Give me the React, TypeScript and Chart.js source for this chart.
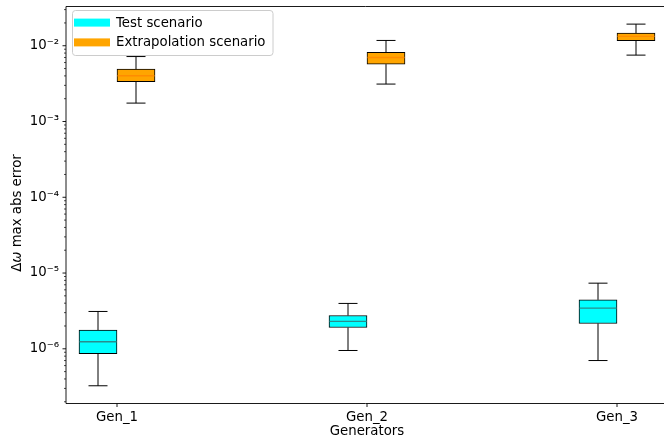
import React, { useEffect, useRef } from "react";
import { Chart, registerables } from "chart.js";

Chart.register(...registerables);

const CATEGORIES = ["Gen_1", "Gen_2", "Gen_3"];
const SERIES_NAMES = ["Test scenario", "Extrapolation scenario"];

const TEST_MIN = [3.25e-7, 9.5e-7, 7.0e-7];
const TEST_Q1 = [8.6e-7, 1.91e-6, 2.16e-6];
const TEST_MED = [1.24e-6, 2.3e-6, 3.44e-6];
const TEST_Q3 = [1.77e-6, 2.75e-6, 4.43e-6];
const TEST_MAX = [3.11e-6, 3.97e-6, 7.35e-6];

const EXT_MIN = [1.75e-3, 3.12e-3, 7.52e-3];
const EXT_Q1 = [3.35e-3, 5.72e-3, 1.165e-2];
const EXT_MED = [4.02e-3, 7.0e-3, 1.33e-2];
const EXT_Q3 = [4.92e-3, 8.16e-3, 1.466e-2];
const EXT_MAX = [7.2e-3, 1.175e-2, 1.93e-2];

const Y_DECADES = [1e-6, 1e-5, 1e-4, 1e-3, 1e-2];
const Y_LABELS = ["10⁻⁶", "10⁻⁵", "10⁻⁴", "10⁻³", "10⁻²"];

const COLORS = ["#00ffff", "#ffa500"];
const MEDIAN_COLORS = ["#2a8c8c", "#ff8c00"];

const Y_MIN = Math.pow(10, -6.722);
const Y_MAX = Math.pow(10, -1.482);
const X_MIN = 0.796;
const X_MAX = 3.188;

const FONT = "DejaVu Sans";
const FS = 13.3;

const STATS = [
  { min: TEST_MIN, q1: TEST_Q1, med: TEST_MED, q3: TEST_Q3, max: TEST_MAX },
  { min: EXT_MIN, q1: EXT_Q1, med: EXT_MED, q3: EXT_Q3, max: EXT_MAX },
];

const overlay = {
  id: "overlay",
  afterDatasetsDraw(chart: any) {
    const ctx = chart.ctx;
    const ys = chart.scales.y;
    ctx.save();
    STATS.forEach((s, di) => {
      const meta = chart.getDatasetMeta(di);
      meta.data.forEach((el: any, j: number) => {
        const x = el.x;
        const half = el.width / 2;
        const pMin = ys.getPixelForValue(s.min[j]);
        const pQ1 = ys.getPixelForValue(s.q1[j]);
        const pMed = ys.getPixelForValue(s.med[j]);
        const pQ3 = ys.getPixelForValue(s.q3[j]);
        const pMax = ys.getPixelForValue(s.max[j]);
        ctx.strokeStyle = "#000";
        ctx.lineWidth = 1;
        ctx.beginPath();
        ctx.moveTo(x, pQ1);
        ctx.lineTo(x, pMin);
        ctx.moveTo(x, pQ3);
        ctx.lineTo(x, pMax);
        ctx.moveTo(x - half / 2, pMin);
        ctx.lineTo(x + half / 2, pMin);
        ctx.moveTo(x - half / 2, pMax);
        ctx.lineTo(x + half / 2, pMax);
        ctx.stroke();
        ctx.strokeStyle = MEDIAN_COLORS[di];
        ctx.lineWidth = 1.4;
        ctx.beginPath();
        ctx.moveTo(x - half + 0.5, pMed);
        ctx.lineTo(x + half - 0.5, pMed);
        ctx.stroke();
      });
    });
    ctx.restore();
  },
  afterDraw(chart: any) {
    const ctx = chart.ctx;
    const ys = chart.scales.y;
    const xs = chart.scales.x;
    const a = chart.chartArea;
    ctx.save();
    ctx.strokeStyle = "#000";
    ctx.lineWidth = 0.9;
    ctx.beginPath();
    ctx.moveTo(a.left, a.top);
    ctx.lineTo(a.left, a.bottom);
    ctx.lineTo(a.right + 2, a.bottom);
    ctx.moveTo(a.left, a.top);
    ctx.lineTo(a.right + 2, a.top);
    ctx.stroke();
    ys.ticks.forEach((t: any) => {
      const p = ys.getPixelForValue(t.value);
      const major = Y_DECADES.some((d) => Math.abs(d - t.value) / d < 1e-6);
      ctx.lineWidth = major ? 0.9 : 0.7;
      ctx.beginPath();
      ctx.moveTo(a.left, p);
      ctx.lineTo(a.left - (major ? 3.5 : 2), p);
      ctx.stroke();
    });
    xs.ticks.forEach((t: any) => {
      const p = xs.getPixelForValue(t.value);
      ctx.lineWidth = 0.9;
      ctx.beginPath();
      ctx.moveTo(p, a.bottom);
      ctx.lineTo(p, a.bottom + 3.5);
      ctx.stroke();
    });
    ctx.fillStyle = "#000";
    ctx.font = `${FS}px "${FONT}"`;
    ctx.textAlign = "center";
    ctx.textBaseline = "middle";
    const midX = xs.getPixelForValue((1 + CATEGORIES.length) / 2);
    ctx.fillText("Generators", midX, 432);
    const partA = "Δ";
    const partB = "ω";
    const partC = " max abs error";
    ctx.font = `${FS}px "${FONT}"`;
    const wA = ctx.measureText(partA).width;
    const wC = ctx.measureText(partC).width;
    ctx.font = `italic ${FS}px "${FONT}"`;
    const wB = ctx.measureText(partB).width;
    const total = wA + wB + wC;
    ctx.translate(18, 213);
    ctx.rotate(-Math.PI / 2);
    ctx.textAlign = "left";
    let cx = -total / 2;
    ctx.font = `${FS}px "${FONT}"`;
    ctx.fillText(partA, cx, 0);
    cx += wA;
    ctx.font = `italic ${FS}px "${FONT}"`;
    ctx.fillText(partB, cx, 0);
    cx += wB;
    ctx.font = `${FS}px "${FONT}"`;
    ctx.fillText(partC, cx, 0);
    ctx.setTransform(1, 0, 0, 1, 0, 0);
    const lx = 72.5, ly = 10.5, lw = 200.5, lh = 45, r = 3;
    ctx.beginPath();
    ctx.moveTo(lx + r, ly);
    ctx.lineTo(lx + lw - r, ly);
    ctx.quadraticCurveTo(lx + lw, ly, lx + lw, ly + r);
    ctx.lineTo(lx + lw, ly + lh - r);
    ctx.quadraticCurveTo(lx + lw, ly + lh, lx + lw - r, ly + lh);
    ctx.lineTo(lx + r, ly + lh);
    ctx.quadraticCurveTo(lx, ly + lh, lx, ly + lh - r);
    ctx.lineTo(lx, ly + r);
    ctx.quadraticCurveTo(lx, ly, lx + r, ly);
    ctx.closePath();
    ctx.fillStyle = "rgba(255,255,255,0.8)";
    ctx.fill();
    ctx.strokeStyle = "#cccccc";
    ctx.lineWidth = 1;
    ctx.stroke();
    SERIES_NAMES.forEach((name, i) => {
      const rowY = 22.6 + i * 19.8;
      ctx.fillStyle = COLORS[i];
      ctx.fillRect(74, rowY - 4, 36, 8);
      ctx.fillStyle = "#000";
      ctx.font = `${FS}px "${FONT}"`;
      ctx.textAlign = "left";
      ctx.textBaseline = "middle";
      ctx.fillText(name, 116, rowY + 0.5);
    });
    ctx.restore();
  },
};

export default function App() {
  const ref = useRef<HTMLCanvasElement | null>(null);
  useEffect(() => {
    document.body.style.margin = "0";
    const canvas = ref.current;
    if (!canvas) return;
    const datasets = STATS.map((s, di) => ({
      label: SERIES_NAMES[di],
      data: CATEGORIES.map((_, j) => ({ x: j + 1, y: [s.q1[j], s.q3[j]] })),
      backgroundColor: COLORS[di],
      borderColor: "#000",
      borderWidth: 1,
      borderSkipped: false,
      barThickness: 38,
    }));
    const chart = new Chart(canvas, {
      type: "bar",
      data: { datasets: datasets as any },
      options: {
        animation: false,
        responsive: false,
        devicePixelRatio: 1,
        layout: { padding: { top: 6.5, left: 0, right: 0, bottom: 0 } },
        plugins: { legend: { display: false }, tooltip: { enabled: false } },
        scales: {
          x: {
            type: "linear",
            offset: false,
            min: X_MIN,
            max: X_MAX,
            grid: { display: false, drawTicks: false, offset: false },
            border: { display: false },
            afterBuildTicks: (scale: any) => {
              scale.ticks = CATEGORIES.map((_, i) => ({ value: i + 1 }));
            },
            afterFit: (scale: any) => {
              scale.height = 41.5;
              scale.paddingLeft = 0;
              scale.paddingRight = 0;
            },
            ticks: {
              autoSkip: false,
              maxRotation: 0,
              padding: 6,
              color: "#000",
              font: { family: FONT, size: FS },
              callback: (v: any) => CATEGORIES[Math.round(Number(v)) - 1] ?? "",
            },
          },
          y: {
            type: "logarithmic",
            min: Y_MIN,
            max: Y_MAX,
            grid: { display: false, drawTicks: false },
            border: { display: false },
            afterBuildTicks: (scale: any) => {
              const ticks: any[] = [];
              for (let e = -7; e <= -1; e++) {
                for (let m = 1; m <= 9; m++) {
                  const v = m * Math.pow(10, e);
                  if (v >= Y_MIN && v <= Y_MAX) ticks.push({ value: v, major: m === 1 });
                }
              }
              scale.ticks = ticks;
            },
            afterFit: (scale: any) => {
              scale.width = 66;
              scale.paddingTop = 0;
              scale.paddingBottom = 0;
            },
            ticks: {
              autoSkip: false,
              padding: 7,
              color: "#000",
              font: { family: FONT, size: FS },
              callback: (v: any) => {
                const idx = Y_DECADES.findIndex((d) => Math.abs(d - Number(v)) / d < 1e-6);
                return idx >= 0 ? Y_LABELS[idx] : "";
              },
            },
          },
        },
      },
      plugins: [overlay],
    });
    return () => chart.destroy();
  }, []);
  return (
    <div style={{ width: 664, height: 445 }}>
      <canvas ref={ref} width={664} height={445} style={{ display: "block" }} />
    </div>
  );
}
